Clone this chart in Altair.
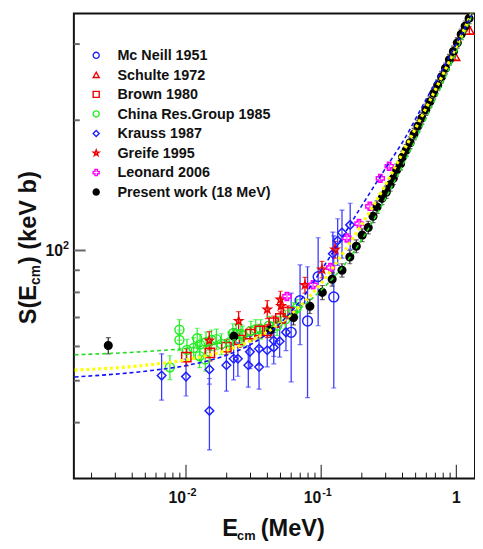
import altair as alt
import pandas as pd

# ---------------- data ----------------
mcneill_E = [0.0600, 0.0698, 0.0793, 0.0950, 0.1240]
mcneill_S = [64.7, 76.6, 68.7, 87.0, 78.1]
mcneill_err = [15.0, 16.0, 23.0, 20.0, 30.0]

schulte_E = [0.978, 1.25]
schulte_S = [281.0, 323.0]
schulte_err = [5.0, 6.0]

brown_E = [0.01005, 0.01503, 0.0199, 0.0248, 0.0299, 0.0351, 0.0399, 0.0446, 0.0499, 0.0568]
brown_S = [56.7, 58.0, 59.8, 62.1, 64.1, 65.2, 65.2, 68.1, 69.7, 72.0]
brown_err = [2.6, 2.5, 2.4, 2.4, 2.4, 2.3, 2.3, 2.4, 2.4, 2.5]

china_E = [0.0076, 0.00894, 0.00894, 0.01016, 0.01138, 0.0121, 0.0126, 0.0127, 0.0139, 0.01406,
           0.01545, 0.0168, 0.01827, 0.0210, 0.0222, 0.0235, 0.0255, 0.0263, 0.0302, 0.0328,
           0.0357, 0.0410, 0.0472, 0.0543, 0.0624, 0.0660]
china_S = [53.7, 65.6, 62.1, 58.9, 59.5, 62.7, 57.0, 60.6, 56.0, 61.4,
           62.1, 62.4, 60.8, 61.4, 64.3, 64.1, 64.1, 63.5, 65.2, 65.8,
           65.8, 67.0, 67.0, 69.3, 72.4, 73.6]
china_err = [3.4, 3.6, 3.4, 3.4, 3.4, 3.4, 3.4, 3.4, 3.4, 3.4,
             3.4, 3.4, 3.4, 3.4, 3.4, 3.4, 3.4, 3.4, 3.4, 3.4,
             3.4, 3.4, 3.4, 3.4, 3.4, 3.4]

krauss_E = [0.0066, 0.0100, 0.0149, 0.0149, 0.0199, 0.0225, 0.0242, 0.0289, 0.0297, 0.0347,
            0.0347, 0.0399, 0.0446, 0.0446, 0.0493, 0.0549, 0.122, 0.1325, 0.1426, 0.164]
krauss_S = [51.4, 51.1, 53.1, 42.6, 54.3, 56.2, 56.2, 54.3, 58.3, 59.3,
            53.8, 58.8, 59.7, 61.9, 61.7, 64.7, 98.3, 105.4, 110.0, 114.6]
krauss_err = [6.3, 5.0, 4.0, 8.0, 7.0, 6.0, 5.0, 6.0, 5.0, 5.0,
              6.0, 5.0, 5.0, 5.0, 5.0, 6.0, 12.0, 13.0, 14.0, 14.0]

greife_E = [0.01486, 0.0245, 0.0399, 0.0499, 0.0505, 0.0759, 0.1014, 0.1268]
greife_S = [61.9, 68.7, 73.1, 77.0, 74.4, 83.2, 90.4, 100.5]
greife_err = [3.0, 3.5, 3.5, 3.5, 3.0, 3.5, 4.0, 4.5]

leonard_E = [0.0558, 0.0871, 0.1172, 0.155, 0.1905, 0.229, 0.274, 0.3186]
leonard_S = [78.3, 83.3, 91.3, 106.9, 115.4, 126.5, 146.8, 156.6]
leonard_err = [1.5, 1.6, 1.8, 2.0, 2.2, 2.4, 2.8, 3.0]

present_E = [0.00266, 0.0226, 0.0422, 0.0624, 0.0825, 0.102, 0.1206, 0.1426, 0.163, 0.182,
             0.201, 0.223, 0.242, 0.259, 0.282, 0.303, 0.324, 0.342, 0.362, 0.387,
             0.400, 0.4257, 0.455, 0.4865, 0.520, 0.556, 0.595, 0.637, 0.681, 0.728,
             0.778, 0.832, 0.889, 0.951, 1.017, 1.087, 1.162, 1.243]
present_S = [60.3, 63.3, 65.6, 70.0, 74.3, 80.0, 85.8, 90.0, 96.6, 102.3,
             108.5, 113.0, 120.0, 126.0, 132.0, 136.4, 141.8, 146.8, 153.4, 158.6,
             164.4, 170.5, 177.5, 185.8, 194.0, 202.3, 211.6, 220.8, 231.0, 241.0,
             252.2, 263.7, 276.0, 288.5, 302.0, 316.0, 330.0, 344.0]
present_err = [2.6, 2.6, 2.6, 2.7, 2.8, 3.0, 3.1, 3.2, 3.4, 3.5,
               3.7, 3.8, 4.0, 4.2, 4.3, 4.4, 4.6, 4.7, 4.9, 5.0,
               5.2, 5.3, 5.5, 5.7, 5.9, 6.1, 6.3, 6.5, 6.8, 7.0,
               7.3, 7.6, 7.9, 8.2, 8.5, 8.9, 9.2, 9.6]

# fit curves
green_E = [0.0015, 0.005, 0.01, 0.02, 0.04, 0.07, 0.1, 0.15, 0.2, 0.3, 0.4, 0.6, 0.8, 1.0, 1.2, 1.4]
green_S = [57.4, 58.4, 59.4, 61.5, 66.0, 73.5, 81.0, 93.0, 106.0, 132.0, 157.0, 203.0, 245.0, 288.0, 328.0, 368.0]
yellow_E = [0.0015, 0.005, 0.01, 0.02, 0.03, 0.05, 0.07, 0.1, 0.14, 0.2, 0.3, 0.4, 0.6, 0.8, 1.0, 1.2, 1.4]
yellow_S = [52.9, 54.3, 55.9, 58.8, 61.8, 68.0, 74.5, 84.0, 97.0, 115.0, 142.0, 168.0, 214.0, 256.0, 296.0, 335.0, 372.0]
blue_E = [0.0015, 0.005, 0.01, 0.02, 0.03, 0.05, 0.07, 0.1, 0.14, 0.2, 0.3, 0.4, 0.6, 0.8, 1.0, 1.2, 1.4]
blue_S = [51.0, 52.6, 54.2, 57.3, 60.6, 68.0, 76.5, 90.0, 106.0, 127.0, 155.0, 178.0, 224.0, 264.0, 300.0, 334.0, 368.0]

# axis ticks and labels
x_major = [0.01, 0.1, 1.0]
x_minor = [0.002, 0.003, 0.004, 0.005, 0.006, 0.007, 0.008, 0.009,
           0.02, 0.03, 0.04, 0.05, 0.06, 0.07, 0.08, 0.09,
           0.2, 0.3, 0.4, 0.5, 0.6, 0.7, 0.8, 0.9]
x_lab_vals = [0.01, 0.1]
x_lab_exp = ["-2", "-1"]
y_major = [100.0]
y_minor = [40.0, 50.0, 60.0, 70.0, 80.0, 90.0, 200.0, 300.0]

series_order = ["Mc Neill 1951", "Schulte 1972", "Brown 1980", "China Res.Group 1985",
                "Krauss 1987", "Greife 1995", "Leonard 2006", "Present work (18 MeV)"]

# ---------------- build tables ----------------
def frame(name, E, S, err):
    return pd.DataFrame({"series": name, "E": E, "S": S, "err": err})

pts = pd.concat([
    frame("Krauss 1987", krauss_E, krauss_S, krauss_err),
    frame("Mc Neill 1951", mcneill_E, mcneill_S, mcneill_err),
    frame("China Res.Group 1985", china_E, china_S, china_err),
    frame("Brown 1980", brown_E, brown_S, brown_err),
    frame("Greife 1995", greife_E, greife_S, greife_err),
    frame("Leonard 2006", leonard_E, leonard_S, leonard_err),
    frame("Schulte 1972", schulte_E, schulte_S, schulte_err),
    frame("Present work (18 MeV)", present_E, present_S, present_err),
], ignore_index=True)
pts["lo"] = pts["S"] - pts["err"]
pts["hi"] = pts["S"] + pts["err"]
pts["order"] = range(len(pts))

curves = pd.concat([
    pd.DataFrame({"fit": "green", "E": green_E, "S": green_S}),
    pd.DataFrame({"fit": "yellow", "E": yellow_E, "S": yellow_S}),
    pd.DataFrame({"fit": "blue", "E": blue_E, "S": blue_S}),
], ignore_index=True)

legend_df = pd.DataFrame({"series": series_order, "i": list(range(len(series_order)))})

W, H = 408, 473
FONT = "Liberation Sans"

xs = alt.Scale(type="log", domain=[0.00148, 1.375], nice=False)
ys = alt.Scale(type="log", domain=[29.7, 353], nice=False)

STAR = "M0,-1L0.235,-0.324L0.951,-0.309L0.38,0.124L0.588,0.809L0,0.4L-0.588,0.809L-0.38,0.124L-0.951,-0.309L-0.235,-0.324Z"

stroke_cols = ["#1f1fff", "#ee0000", "#ee0000", "#22ee22", "#1f1fff", "#ee0000", "#ff00ff", "#000000"]
bar_cols = ["#3a3aff", "#ee0000", "#ee0000", "#33ee33", "#3a3aff", "#ee0000", "#ff33ff", "#333333"]
fill_cols = ["transparent"] * 7 + ["#000000"]
shapes = ["circle", "triangle-up", "square", "circle", "diamond", STAR, "cross", "circle"]
sizes = [100, 60, 60, 50, 28, 100, 70, 62]

stroke_scale = alt.Scale(domain=series_order, range=stroke_cols)
fill_scale = alt.Scale(domain=series_order, range=fill_cols)
shape_scale = alt.Scale(domain=series_order, range=shapes)

X = alt.X("E:Q", scale=xs, axis=None)

bars = alt.Chart(pts).mark_rule(strokeWidth=1.3, clip=True).encode(
    x=X, y=alt.Y("lo:Q", scale=ys, axis=None), y2="hi:Q",
    color=alt.Color("series:N", scale=alt.Scale(domain=series_order, range=bar_cols), legend=None),
)
cap_lo = alt.Chart(pts).mark_tick(thickness=1.2, size=5, orient="horizontal", clip=True).encode(
    x=X, y=alt.Y("lo:Q", scale=ys, axis=None),
    color=alt.Color("series:N", scale=alt.Scale(domain=series_order, range=bar_cols), legend=None),
)
cap_hi = alt.Chart(pts).mark_tick(thickness=1.2, size=5, orient="horizontal", clip=True).encode(
    x=X, y=alt.Y("hi:Q", scale=ys, axis=None),
    color=alt.Color("series:N", scale=alt.Scale(domain=series_order, range=bar_cols), legend=None),
)

points = alt.Chart(pts).mark_point(strokeWidth=1.5, opacity=1, clip=True).encode(
    x=X, y=alt.Y("S:Q", scale=ys, axis=None),
    stroke=alt.Stroke("series:N", scale=stroke_scale, legend=None),
    fill=alt.Fill("series:N", scale=fill_scale, legend=None),
    shape=alt.Shape("series:N", scale=shape_scale, legend=None),
    size=alt.Size("series:N", scale=alt.Scale(domain=series_order, range=sizes), legend=None),
    order=alt.Order("order:Q"),
)

def curve(name, color, width, dash):
    return alt.Chart(curves[curves.fit == name]).mark_line(
        color=color, strokeWidth=width, strokeDash=dash, clip=True, interpolate="monotone"
    ).encode(x=X, y=alt.Y("S:Q", scale=ys, axis=None))

c_green = curve("green", "#22dd22", 1.6, [4, 3])
c_yellow = curve("yellow", "#ffff00", 3.2, [3, 3])
c_blue = curve("blue", "#1010ff", 1.6, [4, 3])

# legend (built from the series list; rows laid out by a pixel scale)
LY = alt.Y("i:Q", scale=alt.Scale(domain=[0, 7], range=[42.5, 181.6]), axis=None)
leg_sym = alt.Chart(legend_df).mark_point(strokeWidth=1.4, opacity=1).encode(
    x=alt.value(22.7), y=LY,
    stroke=alt.Stroke("series:N", scale=stroke_scale, legend=None),
    fill=alt.Fill("series:N", scale=fill_scale, legend=None),
    shape=alt.Shape("series:N", scale=shape_scale, legend=None),
    size=alt.value(38),
)
leg_txt = alt.Chart(legend_df).mark_text(font=FONT, fontSize=14.6, fontWeight="bold", align="left",
                                         baseline="middle", color="#111", dy=1).encode(
    x=alt.value(44.3), y=LY, text="series:N")

# ticks (inward)
xmaj = alt.Chart(pd.DataFrame({"E": x_major})).mark_rule(color="#111", strokeWidth=1).encode(
    x=X, y=alt.value(H), y2=alt.value(H - 14))
xmin = alt.Chart(pd.DataFrame({"E": x_minor})).mark_rule(color="#111", strokeWidth=1).encode(
    x=X, y=alt.value(H), y2=alt.value(H - 6))
ymaj = alt.Chart(pd.DataFrame({"S": y_major})).mark_rule(color="#666", strokeWidth=2).encode(
    y=alt.Y("S:Q", scale=ys, axis=None), x=alt.value(0), x2=alt.value(12))
ymin = alt.Chart(pd.DataFrame({"S": y_minor})).mark_rule(color="#666", strokeWidth=2).encode(
    y=alt.Y("S:Q", scale=ys, axis=None), x=alt.value(0), x2=alt.value(6))

# tick labels
xl_df = pd.DataFrame({"E": x_lab_vals, "exp": x_lab_exp})
xl_base = alt.Chart(xl_df).mark_text(font=FONT, fontSize=16, fontWeight="bold", align="right",
                                     baseline="alphabetic", color="#111", text="10").encode(
    x=X, y=alt.value(H + 25))
xl_exp = alt.Chart(xl_df).mark_text(font=FONT, fontSize=11, fontWeight="bold", align="left",
                                    baseline="alphabetic", color="#111", dx=1).encode(
    x=X, y=alt.value(H + 18), text="exp:N")
xl_one = alt.Chart(pd.DataFrame({"E": [1.0]})).mark_text(font=FONT, fontSize=16, fontWeight="bold",
                                                        align="center", baseline="alphabetic",
                                                        color="#111", text="1").encode(
    x=X, y=alt.value(H + 25))
yl_df = pd.DataFrame({"S": y_major})
yl_base = alt.Chart(yl_df).mark_text(font=FONT, fontSize=16, fontWeight="bold", align="right",
                                     baseline="middle", color="#111", text="10", dx=-11, dy=1).encode(
    y=alt.Y("S:Q", scale=ys, axis=None), x=alt.value(0))
yl_exp = alt.Chart(yl_df).mark_text(font=FONT, fontSize=11, fontWeight="bold", align="left",
                                    baseline="middle", color="#111", text="2", dx=-11, dy=-5).encode(
    y=alt.Y("S:Q", scale=ys, axis=None), x=alt.value(0))

# axis titles (with subscripts)
one = pd.DataFrame({"k": [0]})
def txt(t, x, y, size):
    return alt.Chart(one).mark_text(text=t, font=FONT, fontSize=size, fontWeight="bold",
                                    align="left", baseline="alphabetic",
                                    color="#111").encode(x=alt.value(x), y=alt.value(y))

xt1 = txt("E", 151, H + 58, 24)
xt2 = txt("cm", 166, H + 62, 13)
xt3 = txt("(MeV)", 190, H + 58, 24)

YX = -39
def ytxt(t, size, dx=0, dy=0):
    return alt.Chart(one).mark_text(text=t, font=FONT, fontSize=size, fontWeight="bold", align="left",
                                    baseline="alphabetic", angle=270, color="#111", dx=dx, dy=dy).encode(
        x=alt.value(YX), y=alt.value(316))

yt1 = ytxt("S(E", 24)
yt2 = ytxt("cm", 14, dx=40, dy=5)
yt3 = ytxt(") (keV b)", 24, dx=61)

chart = alt.layer(
    bars, cap_lo, cap_hi, points, c_green, c_yellow, c_blue,
    xmaj, xmin, ymaj, ymin,
    xl_base, xl_exp, xl_one, yl_base, yl_exp,
    xt1, xt2, xt3, yt1, yt2, yt3,
    leg_sym, leg_txt,
).resolve_scale(color="independent", y="independent").properties(
    width=W, height=H,
    autosize=alt.AutoSizeParams(type="none"),
    padding={"left": 67, "top": 1, "right": 0, "bottom": 66},
    background="white",
).configure_view(stroke="#111111", strokeWidth=2)

chart.save("out.html", embed_options={"renderer": "svg", "actions": False})
